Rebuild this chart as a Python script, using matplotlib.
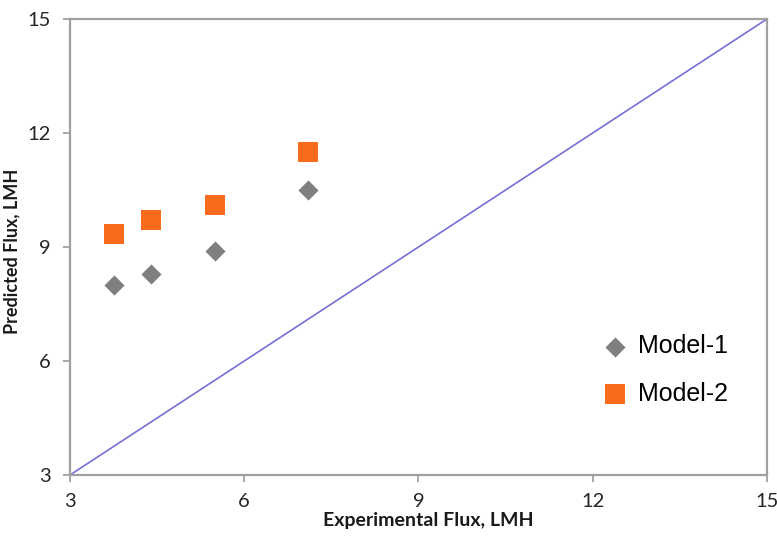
import matplotlib
matplotlib.use("Agg")
import matplotlib.pyplot as plt

# values
experimental = [3.75, 4.4, 5.5, 7.1]
model_1 = [8.0, 8.3, 8.9, 10.5]
model_2 = [9.35, 9.7, 10.1, 11.5]
ticks = [3, 6, 9, 12, 15]
parity = [3, 15]

plt.rcParams["font.family"] = ["Lato", "DejaVu Sans"]

fig = plt.figure(figsize=(7.77, 5.36), dpi=100)
ax = fig.add_axes([0.0901, 0.1138, 0.8970, 0.8508])

ax.plot(parity, parity, color="#7570D4", linewidth=1.2, zorder=1)
ax.scatter(experimental, model_1, marker="D", s=105, color="#7F7F7F",
           linewidths=0, label="Model-1", zorder=3)
ax.scatter(experimental, model_2, marker="s", s=190, color="#F86A1C",
           linewidths=0, label="Model-2", zorder=3)

ax.set_xlim(3, 15)
ax.set_ylim(3, 15)
ax.set_xticks(ticks)
ax.set_yticks(ticks)
ax.tick_params(labelsize=14.5, colors="#A0A0A0", labelcolor="#262626",
               length=5, width=1.3, direction="out")
ax.tick_params(axis="x", pad=8)
ax.tick_params(axis="y", pad=9)
for side in ["left", "bottom", "top", "right"]:
    ax.spines[side].set_color("#A0A0A0")
    ax.spines[side].set_linewidth(1.6)

ax.set_xlabel("Experimental Flux, LMH", fontsize=14, fontweight="bold",
              color="#1a1a1a")
ax.set_ylabel("Predicted Flux, LMH", fontsize=13, fontweight="bold",
              color="#1a1a1a")
ax.xaxis.set_label_coords(0.514, -0.082)
ax.yaxis.set_label_coords(-0.072, 0.49)

ax.legend(loc="center left", bbox_to_anchor=(0.764, 0.23), frameon=False,
          prop={"family": "Liberation Sans", "size": 18},
          handlelength=1.0, handletextpad=0.42, labelspacing=0.95,
          borderpad=0, borderaxespad=0)

fig.savefig("out.png", dpi=100)
